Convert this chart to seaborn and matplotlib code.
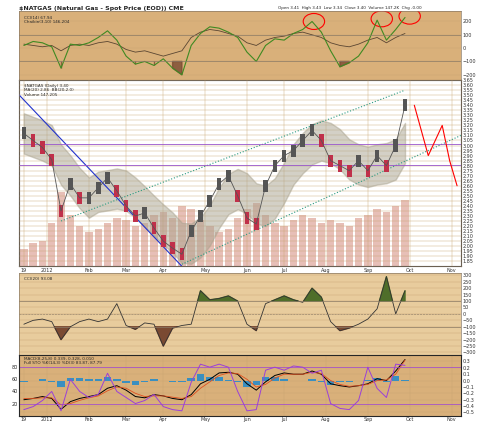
import matplotlib
matplotlib.use("Agg")
import matplotlib.pyplot as plt
import seaborn as sns
import numpy as np
import pandas as pd

# weekly readings, Dec 19 2011 .. Oct 1 2012
weeks = pd.date_range("2011-12-19", periods=42, freq="7D")
close = [3.12, 3.05, 2.98, 2.86, 2.35, 2.62, 2.48, 2.48, 2.58, 2.68, 2.55, 2.40,
         2.30, 2.33, 2.18, 2.05, 1.98, 1.92, 2.15, 2.30, 2.45, 2.62, 2.70, 2.50,
         2.28, 2.22, 2.60, 2.80, 2.90, 2.95, 3.05, 3.15, 3.05, 2.85, 2.80, 2.75,
         2.85, 2.75, 2.90, 2.80, 3.00, 3.40]
volume = [60, 80, 90, 150, 260, 180, 140, 120, 130, 150, 170, 160,
          140, 150, 180, 190, 170, 210, 200, 160, 140, 120, 130, 170,
          200, 220, 180, 150, 140, 160, 180, 170, 150, 160, 150, 140,
          170, 180, 200, 190, 210, 230]
cci = [-80, -50, -40, -60, -200, -100, -60, -40, -60, -40, 80, -90,
       -120, -70, -80, -250, -110, -90, -80, 180, 110, 120, 140, 100,
       -80, -130, 80, 110, 140, 110, 90, 200, 130, -60, -130, -110,
       -80, -40, 40, 290, 0, 180]
chaikin = [20, 50, 40, 10, -150, 30, 20, 40, 80, 130, 60, -60,
           -120, -100, -130, -80, -150, -200, 20, 110, 160, 150, 120, 80,
           -30, -100, 20, 70, 60, 110, 140, 200, 120, -20, -140, -110,
           -60, 40, 210, 60, 140, 230]
cmf = [30, 20, 10, 20, -20, 20, 30, 20, 40, 50, 30, -10,
       -30, -20, -40, -60, -40, -20, 80, 120, 140, 130, 110, 90,
       40, 20, 60, 80, 90, 110, 120, 100, 80, 40, 20, 10,
       30, 60, 80, 40, 80, 110]
macd = [-0.30, -0.28, -0.25, -0.28, -0.45, -0.33, -0.28, -0.25, -0.22, -0.12, -0.08, -0.15,
        -0.25, -0.27, -0.22, -0.24, -0.28, -0.30, -0.22, -0.05, 0.02, 0.12, 0.13, 0.10,
        -0.05, -0.15, -0.02, 0.08, 0.12, 0.10, 0.10, 0.15, 0.10, -0.05, -0.08, -0.10,
        -0.08, -0.05, 0.03, 0.00, 0.15, 0.33]
signal = [-0.28, -0.28, -0.27, -0.27, -0.38, -0.36, -0.31, -0.27, -0.24, -0.16, -0.10, -0.12,
          -0.20, -0.25, -0.24, -0.24, -0.26, -0.28, -0.25, -0.12, -0.02, 0.08, 0.12, 0.11,
          0.02, -0.10, -0.06, 0.04, 0.10, 0.10, 0.10, 0.13, 0.11, 0.00, -0.06, -0.09,
          -0.08, -0.06, 0.00, 0.01, 0.10, 0.32]
stoch = [10, 15, 25, 40, 8, 60, 40, 30, 35, 70, 40, 30,
         20, 25, 35, 15, 10, 8, 55, 85, 80, 85, 80, 40,
         8, 10, 75, 80, 75, 82, 80, 70, 75, 20, 12, 10,
         25, 80, 45, 30, 85, 83]

x = np.arange(len(weeks))
date_ticks = [0, 2.5, 7, 11, 15, 19.5, 24, 28, 32.5, 37, 41.5, 46]
date_labels = ["19", "2012", "Feb", "Mar", "Apr", "May", "Jun", "Jul", "Aug", "Sep", "Oct", "Nov"]

sns.set_style("white")
plt.rcParams["font.family"] = ["DejaVu Sans"]
plt.rcParams["font.size"] = 4

bg = "#d9b07a"
fig = plt.figure(figsize=(4.8, 4.33), dpi=100)
fig.patch.set_facecolor("white")

def frame(ax, color):
    ax.set_facecolor(color)
    ax.set_xlim(-0.5, 47)
    ax.yaxis.tick_right()
    ax.tick_params(length=0, labelsize=3.5, colors="#333333", pad=1)
    ax.grid(True, color="#c9a572", lw=0.3)
    for s in ax.spines.values():
        s.set_color("#8a7a66")
        s.set_linewidth(0.5)

# top oscillator panel
ax1 = fig.add_axes([0.04, 0.815, 0.92, 0.16])
frame(ax1, bg)
sns.lineplot(x=x, y=cmf, ax=ax1, color="#5a4632", lw=0.6)
sns.lineplot(x=x, y=chaikin, ax=ax1, color="#3f8a22", lw=0.8)
ax1.fill_between(x, chaikin, -100, where=np.array(chaikin) < -100, color="#7a4a32", alpha=0.8)
ax1.axhline(100, color="#8a7a66", lw=0.5)
ax1.axhline(-100, color="#8a7a66", lw=0.5)
ax1.set_ylim(-240, 280)
ax1.set_xticks([])
for xc, yc in [(31.2, 200), (38.5, 220), (41.5, 240)]:
    ax1.add_patch(matplotlib.patches.Ellipse((xc, yc), 2.3, 120, fill=False, color="red", lw=0.8))
ax1.text(0.01, 0.93, "CCI(14) 67.94\nChaikin(3,10) 146,204", transform=ax1.transAxes, fontsize=3, va="top")
fig.text(0.04, 0.985, "$NATGAS (Natural Gas - Spot Price (EOD)) CME", fontsize=4.5, weight="bold", va="top")
fig.text(0.58, 0.985, "Open 3.41  High 3.43  Low 3.34  Close 3.40  Volume 147.2K  Chg -0.00", fontsize=3, va="top")

# main price panel
ax2 = fig.add_axes([0.04, 0.385, 0.92, 0.43])
frame(ax2, "#efdcb4")
axv = ax2.twinx()
ax2.yaxis.tick_right()
axv.bar(x, volume, width=0.8, color="#d08070", alpha=0.5, linewidth=0)
axv.set_ylim(0, 650)
axv.set_yticks([])
ma = pd.Series(close).rolling(4, min_periods=1).mean()
ax2.fill_between(x, ma - 0.2, ma + 0.2, color="#a9a38f", alpha=0.5, zorder=1)
colors = ["#c0304a" if i > 0 and close[i] < close[i - 1] else "#555555" for i in x]
ax2.bar(x, [0.12] * len(x), bottom=np.array(close) - 0.06, color=colors, width=0.5, zorder=3, linewidth=0)
sns.lineplot(x=x, y=close, ax=ax2, color="#555555", lw=0.6, zorder=3)
ax2.set_zorder(axv.get_zorder() + 1)
ax2.patch.set_visible(False)
axv.set_facecolor("#efdcb4")
ax2.plot([-1, 17], [3.55, 1.80], color="#2233cc", lw=0.8)
ax2.plot([4, 41], [2.25, 3.55], color="#2a9a80", lw=0.8, ls=":")
ax2.plot([17, 47], [1.82, 3.10], color="#2a9a80", lw=0.8, ls=":")
ax2.axhline(3.02, color="#9955cc", lw=0.6)
ax2.axhline(2.81, color="#9955cc", lw=0.6)
ax2.plot([42, 43.5, 45, 45.8, 46.6], [3.40, 2.90, 3.20, 2.85, 2.60], color="red", lw=0.8)
ax2.set_yticks(np.arange(1.85, 3.66, 0.05))
ax2.set_ylim(1.80, 3.65)
ax2.set_xticks(date_ticks)
ax2.set_xticklabels(date_labels)
ax2.text(0.01, 0.98, "$NATGAS (Daily) 3.40\nMA(20) 2.86  BB(20,2.0)\nVolume 147,205", transform=ax2.transAxes,
         fontsize=3, va="top")

# CCI panel
ax3 = fig.add_axes([0.04, 0.18, 0.92, 0.19])
frame(ax3, "#e8cc9d")
sns.lineplot(x=x, y=cci, ax=ax3, color="#333333", lw=0.6)
c = np.array(cci)
ax3.fill_between(x, c, 100, where=c > 100, color="#4f6e2a", interpolate=True)
ax3.fill_between(x, c, -100, where=c < -100, color="#7a4a32", interpolate=True)
ax3.axhline(100, color="#8a7a66", lw=0.5)
ax3.axhline(-100, color="#8a7a66", lw=0.5)
ax3.axhline(0, color="#8a7a66", lw=0.4, ls="--")
ax3.set_ylim(-320, 320)
ax3.set_yticks(range(-300, 301, 50))
ax3.set_xticks([])
ax3.text(0.01, 0.95, "CCI(20) 93.08", transform=ax3.transAxes, fontsize=3, va="top")

# MACD / stochastic panel
ax4 = fig.add_axes([0.04, 0.04, 0.92, 0.14])
frame(ax4, bg)
hist = np.array(macd) - np.array(signal)
ax4.bar(x, hist * 1.5, color="#3a8fc0", width=0.8, linewidth=0)
sns.lineplot(x=x, y=macd, ax=ax4, color="black", lw=0.7)
sns.lineplot(x=x, y=signal, ax=ax4, color="#e05020", lw=0.6)
ax4.set_yticks(np.arange(-0.5, 0.31, 0.1))
ax4.set_ylim(-0.55, 0.40)
ax4s = ax4.twinx()
ax4.yaxis.tick_right()
sns.lineplot(x=x, y=stoch, ax=ax4s, color="#9b40d8", lw=0.7)
ax4s.axhline(80, color="#9b40d8", lw=0.5)
ax4s.axhline(20, color="#9b40d8", lw=0.5)
ax4s.set_ylim(0, 100)
ax4s.yaxis.tick_left()
ax4s.tick_params(length=0, labelsize=3.5, pad=1)
ax4s.set_yticks([20, 40, 60, 80])
ax4.set_xticks(date_ticks)
ax4.set_xticklabels(date_labels)
ax4.text(0.01, 0.97, "MACD(8,25,8) 0.339, 0.328, 0.010\nFull STO %K(14,3) %D(3) 83.87, 87.79",
         transform=ax4.transAxes, fontsize=3, va="top")

fig.savefig("out.png", dpi=100)
